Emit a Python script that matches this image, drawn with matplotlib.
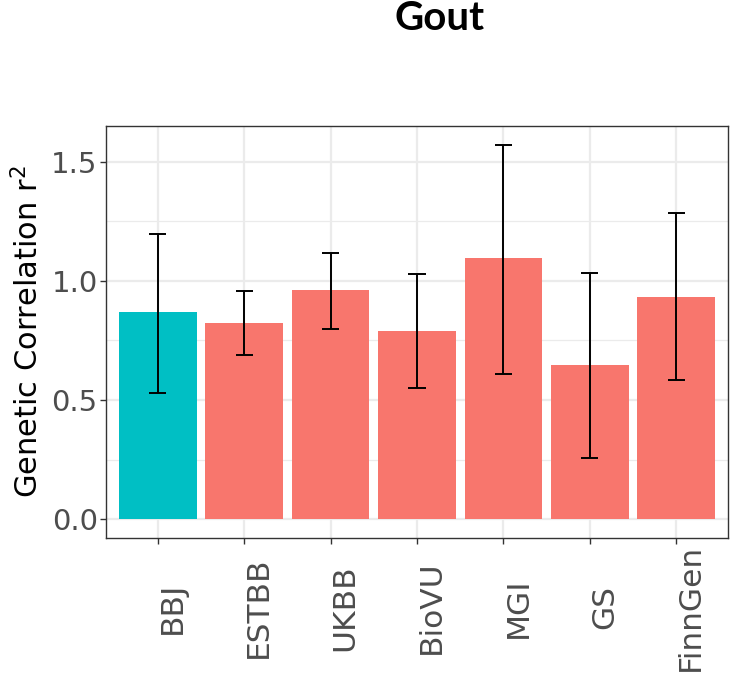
import matplotlib
matplotlib.use("Agg")
import matplotlib.pyplot as plt
import numpy as np

# Genetic correlation estimates per cohort with their confidence limits
cohorts = ["BBJ", "ESTBB", "UKBB", "BioVU", "MGI", "GS", "FinnGen"]
rg = [0.869, 0.822, 0.960, 0.788, 1.096, 0.647, 0.932]
rg_lower = [0.530, 0.688, 0.800, 0.549, 0.611, 0.256, 0.583]
rg_upper = [1.198, 0.957, 1.115, 1.027, 1.571, 1.034, 1.284]
bar_colors = ["#00BFC4", "#F8766D", "#F8766D", "#F8766D", "#F8766D", "#F8766D", "#F8766D"]

y_major = [0.0, 0.5, 1.0, 1.5]
y_minor = [0.25, 0.75, 1.25]
y_ticklabels = ["0.0", "0.5", "1.0", "1.5"]

W, H = 731, 674
fig = plt.figure(figsize=(W / 100, H / 100), dpi=100)
ax = fig.add_axes([106 / W, (H - 538) / H, 622 / W, 412 / H])

x = np.arange(len(cohorts))
ax.bar(x, rg, width=0.9, color=bar_colors, zorder=2)

# error bars with caps spanning 0.2 category units
ax.vlines(x, rg_lower, rg_upper, color="black", lw=1.4, zorder=3)
ax.hlines(rg_lower, x - 0.1, x + 0.1, color="black", lw=1.4, zorder=3)
ax.hlines(rg_upper, x - 0.1, x + 0.1, color="black", lw=1.4, zorder=3)

# y range with 5% padding around [0, max]
top = max(rg_upper)
pad = 0.05 * top
ax.set_ylim(-pad, top + pad)
ax.set_xlim(-0.6, len(cohorts) - 0.4)

grid_col = "#EBEBEB"
for v in y_major:
    ax.axhline(v, color=grid_col, lw=1.6, zorder=0)
for v in y_minor:
    ax.axhline(v, color=grid_col, lw=0.9, zorder=0)
for v in x:
    ax.axvline(v, color=grid_col, lw=1.6, zorder=0)

ax.set_yticks(y_major)
ax.set_yticklabels(y_ticklabels, family="DejaVu Sans", fontsize=21, color="#4D4D4D")
ax.set_xticks(x)
ax.set_xticklabels(cohorts, rotation=90, ha="left", va="center",
                   family="DejaVu Sans", fontsize=22.5, color="#4D4D4D")
ax.tick_params(axis="y", length=4, width=1, color="#333333", pad=2)
ax.tick_params(axis="x", length=4, width=1, color="#333333", pad=46)

for s in ax.spines.values():
    s.set_color("#333333")
    s.set_linewidth(1.0)

ax.set_ylabel("Genetic Correlation r$^2$", family="DejaVu Sans", fontsize=22,
              color="black", labelpad=5)

fig.text(440 / W, 1 - 19 / H, "Gout", family="Lato", fontweight="bold",
         fontsize=29, ha="center", va="center", color="black")

fig.savefig("out.png", dpi=100)
